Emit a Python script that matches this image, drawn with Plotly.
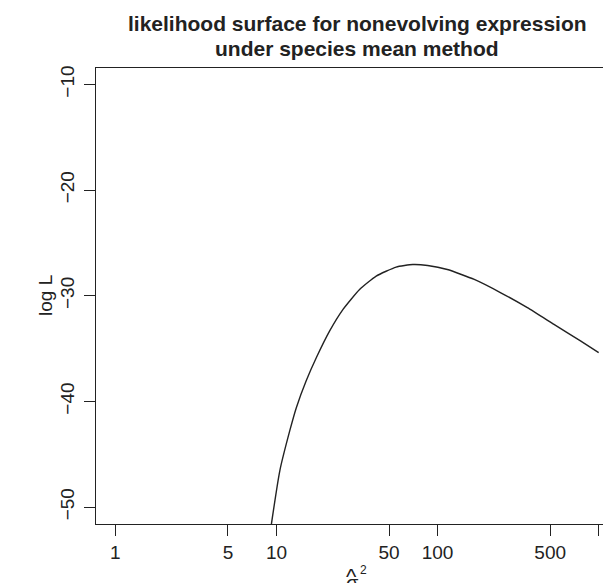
import plotly.graph_objects as go

# sigma^2 values (log-scale x) and log-likelihood values
sigma2 = [9.0, 9.31, 10.5, 12.1, 13.3, 15.3, 17.7, 21.4, 25.9, 32.8, 41.6, 55.3,
          70.2, 86.8, 115, 169, 247, 361, 528, 771, 1000]
logL = [-53.2, -51.58, -46.54, -42.77, -40.57, -38.05, -35.85, -33.33, -31.29,
        -29.41, -28.14, -27.29, -27.05, -27.14, -27.52, -28.46, -29.72, -31.13,
        -32.71, -34.27, -35.38]

x_ticks = [1, 5, 10, 50, 100, 500, 1000]
x_ticktext = ["1", "5", "10", "50", "100", "500", ""]
y_ticks = [-10, -20, -30, -40, -50]

title_lines = ["likelihood surface for nonevolving expression", "under species mean method"]

FONT = "Liberation Sans, Arial, Helvetica, sans-serif"
INK = "#222222"
W, H = 611, 583
ML, MR, MT, MB = 88, 1, 60, 67
PW, PH = W - ML - MR, H - MT - MB


def px(xp):
    return (xp - ML) / PW


def py(yp):
    return 1 + (MT - yp) / PH


fig = go.Figure()
fig.add_trace(go.Scatter(x=sigma2, y=logL, mode="lines",
                         line=dict(color=INK, width=1.4, shape="spline", smoothing=0.5),
                         showlegend=False, hoverinfo="skip"))

annots = []
for t, yc in zip(title_lines, [16, 40.5]):
    annots.append(dict(text="<b>%s</b>" % t, x=0.5, y=py(yc), xref="paper", yref="paper",
                       xanchor="center", yanchor="middle", showarrow=False,
                       font=dict(family=FONT, size=21, color=INK)))
# x-axis label: sigma with hat and superscript 2
annots.append(dict(text="σ", x=px(344), y=py(575), xref="paper", yref="paper",
                   xanchor="center", yanchor="middle", showarrow=False,
                   font=dict(family=FONT, size=20, color=INK)))
annots.append(dict(text="^", x=px(343.5), y=py(568), xref="paper", yref="paper",
                   xanchor="center", yanchor="middle", showarrow=False,
                   font=dict(family=FONT, size=22, color=INK)))
annots.append(dict(text="2", x=px(355.5), y=py(562), xref="paper", yref="paper",
                   xanchor="center", yanchor="middle", showarrow=False,
                   font=dict(family=FONT, size=12, color=INK)))
annots.append(dict(text="log L", x=px(37), y=0.5, xref="paper", yref="paper",
                   xanchor="center", yanchor="middle", showarrow=False, textangle=-90,
                   font=dict(family=FONT, size=19, color=INK)))

fig.update_layout(
    width=W, height=H,
    margin=dict(l=ML, r=MR, t=MT, b=MB),
    paper_bgcolor="white", plot_bgcolor="white",
    font=dict(family=FONT, size=19, color=INK),
    annotations=annots,
)
fig.update_xaxes(type="log", range=[-0.12, 3.12], automargin=False,
                 tickmode="array", tickvals=x_ticks, ticktext=x_ticktext,
                 ticks="outside", ticklen=11, tickwidth=1, tickcolor=INK,
                 ticklabelstandoff=0,
                 showgrid=False, zeroline=False,
                 showline=True, linecolor=INK, linewidth=1.2, mirror=True)
fig.update_yaxes(range=[-51.6, -8.45], automargin=False,
                 tickmode="array", tickvals=y_ticks,
                 ticks="outside", ticklen=11, tickwidth=1, tickcolor=INK,
                 tickangle=-90, ticklabelstandoff=2,
                 showgrid=False, zeroline=False,
                 showline=True, linecolor=INK, linewidth=1.2, mirror=True)

fig.write_html("out.html")
